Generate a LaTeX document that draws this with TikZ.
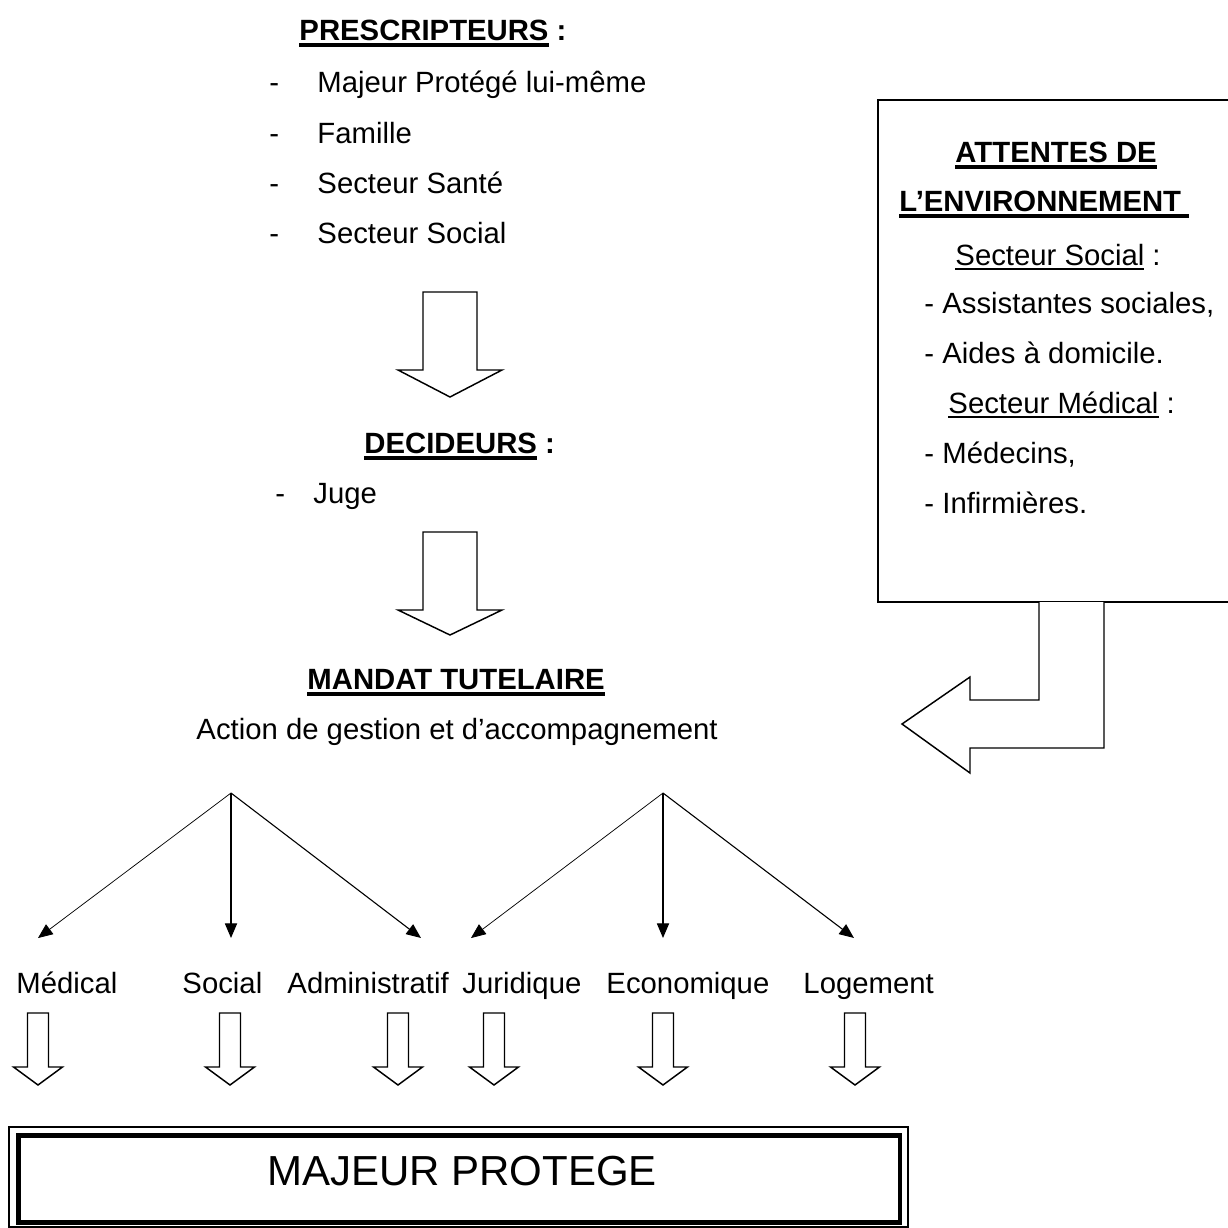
\documentclass[tikz,border=0pt]{standalone}
\usepackage{fontspec}
\setmainfont{Liberation Sans}
\usetikzlibrary{arrows.meta}

% underline drawn at a chosen gap below the baseline, with a chosen thickness
\newcommand\myulbox[3]{\setbox0\hbox{#3}\rlap{\vrule width\wd0 height -#1 depth \dimexpr#1+#2\relax}\box0\relax}
\newcommand\myulb[1]{\myulbox{1.4pt}{1.6pt}{#1}}
\newcommand\myulr[1]{\myulbox{1.1pt}{0.9pt}{#1}}

% hollow block arrow pointing down: centre x, top, shoulder, tip, half shaft, half head
\newcommand\hollowdown[6]{%
  \draw[hollow] (#1-#5,#2) -- (#1-#5,#3) -- (#1-#6,#3) -- (#1,#4)
    -- (#1+#6,#3) -- (#1+#5,#3) -- (#1+#5,#2) -- cycle;}

\begin{document}
\begin{tikzpicture}[x=0.4096pt,y=-0.4096pt,
  txt/.style={anchor=base west,inner sep=0pt,font=\fontsize{12}{14}\selectfont},
  btxt/.style={txt,font=\fontsize{12}{14}\selectfont\bfseries},
  hollow/.style={draw=black,line width=0.6pt,line join=miter,fill=white},
  branch/.style={line width=0.45pt,-{Triangle[length=6pt,width=5pt]}},
  lbranch/.style={branch,line width=0.3pt}]

\clip (0,0) rectangle (1228,1228);
\fill[white] (0,0) rectangle (1228,1228);

% prescribers
\node[btxt] (presc) at (299,40) {\myulb{PRESCRIPTEURS} :};
\foreach \t/\yy [count=\i] in {Majeur Protégé lui-même/92,Famille/143,Secteur Santé/193,Secteur Social/243}{
  \node[txt] (pd\i) at (269,\yy) {-};
  \node[txt] (p\i) at (317,\yy) {\t};
}

\hollowdown{450}{292}{370}{397}{27}{52}

% deciders
\node[btxt] (decid) at (364,453) {\myulb{DECIDEURS} :};
\node[txt] (jd) at (275,503) {-};
\node[txt] (juge) at (313,503) {Juge};

\hollowdown{450}{532}{610}{635}{27}{52}

% mandate
\node[btxt] (mandat) at (307,689) {\myulb{MANDAT TUTELAIRE}};
\node[txt] (action) at (196,739) {Action de gestion et d’accompagnement};

% environment box
\draw[line width=0.6pt] (878,100) rectangle (1260,602);
\node[btxt] (att1) at (955,162) {\myulb{ATTENTES DE}};
\node[btxt] (att2) at (899,211) {\myulb{L’ENVIRONNEMENT\ }};
\node[txt] (ss) at (955,265) {\myulr{Secteur Social} :};
\node[txt] (as) at (924,313) {- Assistantes sociales,};
\node[txt] (ad) at (924,363) {- Aides à domicile.};
\node[txt] (sm) at (948,413) {\myulr{Secteur Médical} :};
\node[txt] (me) at (924,463) {- Médecins,};
\node[txt] (inf) at (924,513) {- Infirmières.};

% bent arrow from the environment box towards the mandate
\draw[hollow] (1039,602) -- (1039,700) -- (970,700) -- (970,677) -- (902,724)
  -- (970,773) -- (970,748) -- (1104,748) -- (1104,602);

% branching towards the domains
\coordinate (f1) at (231,793);
\coordinate (f2) at (663,793);
\coordinate (tmed) at (38,938);
\coordinate (tsoc) at (231,938);
\coordinate (tadm) at (421,938);
\coordinate (tjur) at (471,938);
\coordinate (teco) at (663,938);
\coordinate (tlog) at (854,938);
\draw[lbranch] (f1) -- (tmed);
\draw[branch] (f1) -- (tsoc);
\draw[branch] (f1) -- (tadm);
\draw[lbranch] (f2) -- (tjur);
\draw[branch] (f2) -- (teco);
\draw[branch] (f2) -- (tlog);

\node[txt] (med) at (16,993) {Médical};
\node[txt] (soc) at (182,993) {Social};
\node[txt] (adm) at (287,993) {Administratif};
\node[txt] (jur) at (462,993) {Juridique};
\node[txt] (eco) at (606,993) {Economique};
\node[txt] (log) at (803,993) {Logement};

\foreach \cx in {38,230,398,494,663,855}{
  \hollowdown{\cx}{1013}{1067}{1085}{10.5}{24.5}
}

% protected adult
\draw[line width=0.5pt] (9,1127) rectangle (908,1227);
\draw[line width=2pt] (18.5,1135.5) rectangle (900,1222.5);
\node[anchor=base,inner sep=0pt,font=\fontsize{17.2}{20}\selectfont] (mp) at (462,1185) {MAJEUR PROTEGE};

\end{tikzpicture}
\end{document}
